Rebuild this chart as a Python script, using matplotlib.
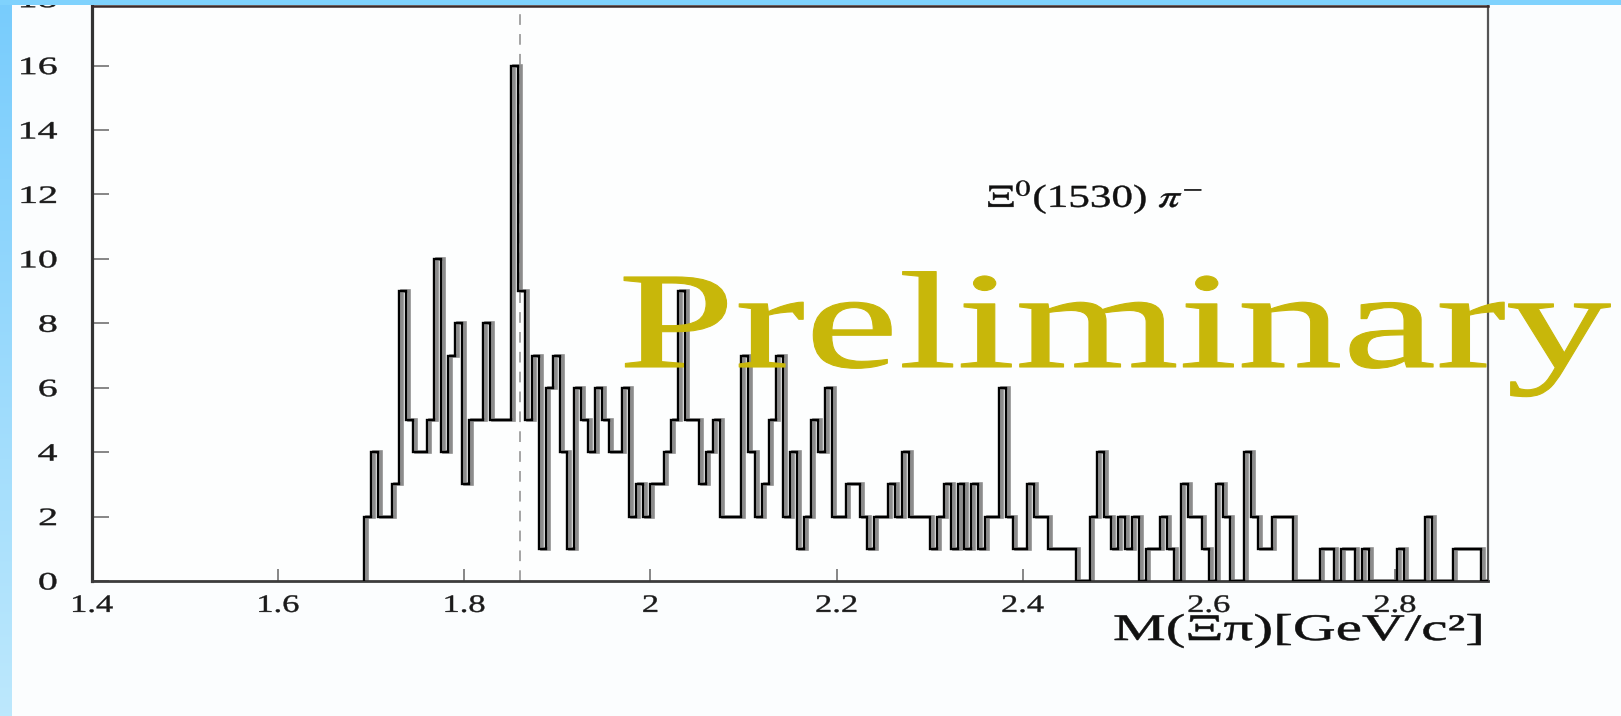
import numpy as np
import matplotlib
matplotlib.use("Agg")
from matplotlib import pyplot as plt
from matplotlib.patches import Rectangle
from matplotlib.patheffects import AbstractPathEffect
from matplotlib.transforms import Affine2D, ScaledTranslation, blended_transform_factory

plt.rcParams['font.family'] = ['Liberation Serif', 'DejaVu Serif']
plt.rcParams['mathtext.fontset'] = 'stix'

# histogram of M(Xi pi): 0.0075 GeV bins, first filled bin starts at 1.6925
bin_start = 1.6925
bin_width = 0.0075
counts = [2, 4, 2, 2, 3, 9, 5, 4, 4, 5, 10, 4, 7, 8, 3, 5, 5, 8, 5, 5, 5,
          16, 9, 5, 7, 1, 6, 7, 4, 1, 6, 5, 4, 6, 5, 4, 4, 6, 2, 3, 2,
          3, 3, 4, 5, 9, 5, 5, 3, 4, 5, 2, 2, 2, 7, 4, 2, 3, 5, 7, 2,
          4, 1, 2, 5, 4, 6, 2, 2, 3, 3, 2, 1, 2, 2, 3, 2, 4, 2, 2, 2,
          1, 2, 3, 1, 3, 1, 3, 1, 2, 2, 6, 2, 1, 1, 3, 2, 2, 1, 1, 1,
          1, 0, 0, 2, 4, 2, 1, 2, 1, 2, 0, 1, 1, 2, 1, 0, 3, 2, 2, 1,
          0, 3, 2, 0, 0, 4, 2, 1, 1, 2, 2, 2, 0, 0, 0, 0, 1, 1, 0, 1,
          1, 0, 1, 0, 0, 0, 0, 1, 0, 0, 0, 2, 0, 0, 0, 1, 1, 1, 1, 0]
edges = bin_start + bin_width * np.arange(len(counts) + 1)

x_ticks = [1.4, 1.6, 1.8, 2.0, 2.2, 2.4, 2.6, 2.8]
x_tick_labels = ["1.4", "1.6", "1.8", "2", "2.2", "2.4", "2.6", "2.8"]
y_ticks = [0, 2, 4, 6, 8, 10, 12, 14, 16]
signal_mass = 1.86


class Stretch(AbstractPathEffect):
    # the scanned original is stretched sideways, widen the glyphs the same way
    def __init__(self, sx, anchor="left", lw=0):
        super().__init__()
        self.sx = sx
        self.anchor = anchor
        self.lw = lw

    def draw_path(self, renderer, gc, tpath, affine, rgbFace=None):
        ext = tpath.get_extents()
        if self.anchor == "center":
            x0 = (ext.x0 + ext.x1) / 2
        elif self.anchor == "right":
            x0 = ext.x1
        else:
            x0 = 0
        aff = Affine2D().translate(-x0, 0).scale(self.sx, 1).translate(x0, 0) + affine
        if self.lw and rgbFace is not None:
            gc0 = renderer.new_gc()
            gc0.copy_properties(gc)
            gc0.set_linewidth(self.lw)
            gc0.set_foreground(rgbFace)
            renderer.draw_path(gc0, tpath, aff, rgbFace)
            gc0.restore()
        else:
            renderer.draw_path(gc, tpath, aff, rgbFace)


fig = plt.figure(figsize=(16.21, 7.16), dpi=100)
fig.patch.set_facecolor("#fbfdfe")

W, H = 1621, 716
ax = fig.add_axes([92 / W, (H - 581) / H, (1488 - 92) / W, (581 - 6) / H])
ax.set_facecolor("#fdfefe")

# gray "shadow" of the scanned line, then the black histogram
shadow = ax.transData + ScaledTranslation(3 / 100, 0, fig.dpi_scale_trans)
ax.stairs(counts, edges, baseline=0, color="#8c8c8c", lw=2.6, transform=shadow, zorder=2)
ax.stairs(counts, edges, baseline=0, color="black", lw=1.7, zorder=3)

ax.axvline(signal_mass, color="#8c8c8c", lw=1.1, ls=(0, (7, 6)), zorder=1)

ax.set_xlim(1.4, 2.9)
ax.set_ylim(0, 17.85)

ax.set_xticks(x_ticks)
ax.set_xticklabels(x_tick_labels)
ax.set_yticks(y_ticks)
ax.tick_params(axis="y", direction="in", length=12, width=1.1, color="#666666",
               pad=25, labelsize=18, labelcolor="#1a1a1a")
ax.tick_params(axis="x", direction="in", length=9, width=1.1, color="#666666",
               pad=10, labelsize=18, labelcolor="#1a1a1a")
for lab in ax.get_yticklabels():
    lab.set_path_effects([Stretch(1.6, "right", lw=0.3)])
for lab in ax.get_xticklabels():
    lab.set_path_effects([Stretch(1.38, "center", lw=0.3)])

ax.spines["left"].set_linewidth(2.3)
ax.spines["left"].set_color("#333333")
ax.spines["bottom"].set_linewidth(2.0)
ax.spines["bottom"].set_color("#3c3c3c")
ax.spines["right"].set_linewidth(1.6)
ax.spines["right"].set_color("#555555")
ax.spines["top"].set_linewidth(1.8)
ax.spines["top"].set_color("#3b2a2a")

# the "18" label, cut by the top of the slide as in the original
tr = blended_transform_factory(ax.transAxes, ax.transData) + \
    ScaledTranslation(-0.35, 0, fig.dpi_scale_trans)
t18 = ax.text(0, 18, "18", transform=tr, ha="right", va="center", fontsize=18,
              color="#1a1a1a", clip_on=False)
t18.set_path_effects([Stretch(1.6, "right", lw=0.3)])

# channel label
t = fig.text(987 / W, (H - 207) / H, r"$\Xi^{0}$(1530) $\pi^{-}$", fontsize=23,
             ha="left", va="baseline", color="#111111")
t.set_path_effects([Stretch(1.35, "left", lw=0.3)])

# x axis title
t = fig.text(1113 / W, (H - 640) / H, "M(Ξπ)[GeV/c²]", fontsize=27,
             ha="left", va="baseline", color="#111111")
t.set_path_effects([Stretch(1.58, "left", lw=0.4)])

# watermark
t = fig.text(618 / W, (H - 367) / H, "Preliminary", fontsize=99,
             ha="left", va="baseline", color="#c8b70a", zorder=10)
t.set_path_effects([Stretch(1.53, "left", lw=0.8)])

# blue slide border (left gradient strip and top strip)
grad = np.linspace(0, 1, 256).reshape(-1, 1)
top_c = np.array([0.47, 0.80, 0.99])
bot_c = np.array([0.74, 0.91, 0.99])
img = top_c + (bot_c - top_c) * grad[:, :, None]
side = fig.add_axes([0, 0, 12 / W, 1])
side.imshow(img, aspect="auto", extent=[0, 1, 0, 1], origin="upper")
side.set_axis_off()
fig.add_artist(Rectangle((0, 1 - 5 / H), 1, 5 / H, transform=fig.transFigure,
                         facecolor="#7fd2fd", edgecolor="none", zorder=20))

fig.savefig("out.png", dpi=100, facecolor=fig.get_facecolor())
